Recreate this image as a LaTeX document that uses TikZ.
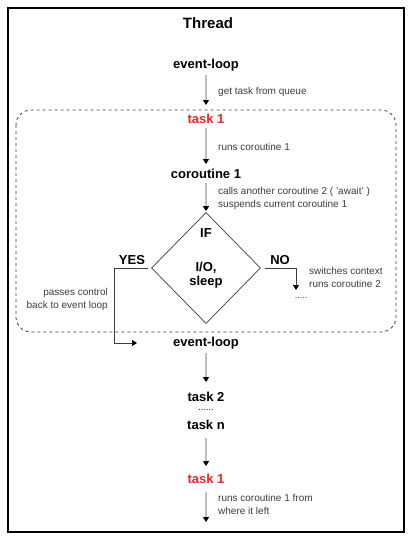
\documentclass[tikz,border=0pt]{standalone}
\usepackage{fontspec}
\setmainfont{Liberation Sans}
\usetikzlibrary{arrows.meta,shapes.geometric}
\definecolor{redtask}{RGB}{232,38,38}
\definecolor{txtgrey}{RGB}{60,60,60}
\definecolor{linegrey}{RGB}{190,190,190}
\tikzset{
  bold/.style={font=\fontsize{13}{15}\selectfont\bfseries, inner sep=0pt},
  redbold/.style={bold, text=redtask},
  small/.style={font=\fontsize{10}{13}\selectfont, text=txtgrey, inner sep=0pt, align=left},
  flow/.style={draw=linegrey, line width=1.8pt, -{Triangle[color=black,width=6pt,length=5pt]}},
  branch/.style={draw=txtgrey, line width=0.7pt, -{Triangle[color=black,width=6pt,length=5pt]}},
}
\begin{document}
\begin{tikzpicture}[x=1pt,y=-1pt]
\useasboundingbox (0,0) rectangle (411,539);
\draw[line width=1.5pt] (8,8) rectangle (404,532);
\draw[dashed, draw=txtgrey, line width=0.8pt, rounded corners=15pt] (16,110) rectangle (396,332);

\node[font=\fontsize{15}{17}\selectfont\bfseries, inner sep=0pt] (title) at (208,23) {Thread};

\node[bold] (el1) at (206,65) {event-loop};
\node[redbold] (t1) at (206,119) {task 1};
\node[bold] (c1) at (206,174) {coroutine 1};
\node[draw=txtgrey, line width=0.7pt, shape=diamond, minimum width=109pt, minimum height=111pt, inner sep=0pt] (d) at (206,268) {};
\node[bold] (if) at (206,233) {IF};
\node[bold, align=center, font=\fontsize{13}{14}\selectfont\bfseries] (io) at (206,275) {I/O,\\sleep};
\node[bold] (yes) at (132,260) {YES};
\node[bold] (no) at (280,260) {NO};
\node[bold] (el2) at (206,343) {event-loop};
\node[bold] (t2) at (206,397) {task 2};
\node[font=\fontsize{9}{10}\selectfont, inner sep=0pt] (dots) at (206,410) {......};
\node[bold] (tn) at (206,425) {task n};
\node[redbold] (t1b) at (206,479) {task 1};
\coordinate (endp) at (206,522);

\node[small, anchor=west] (l1) at (218,92) {get task from queue};
\node[small, anchor=west] (l2) at (218,147) {runs coroutine 1};
\node[small, anchor=west] (l3) at (218,198.5) {calls another coroutine 2 ( 'await' )\\suspends current coroutine 1};
\node[small, anchor=west] (l4) at (309,277.5) {switches context\\runs coroutine 2};
\node[small, anchor=east, align=right] (l5) at (108,299) {passes control\\back to event loop};
\node[small, anchor=west] (l6) at (218,504.5) {runs coroutine 1 from\\where it left};
\node[font=\fontsize{9}{10}\selectfont, text=txtgrey, inner sep=0pt] (ndots) at (301,298) {.....};

\coordinate (yesc) at (114,268);
\coordinate (yesend) at (137,343);
\coordinate (noc) at (296,268);
\coordinate (noend) at (296,290);

\draw[flow, shorten <=4pt, shorten >=9pt] (el1) -- (t1);
\draw[flow, shorten <=4pt, shorten >=5pt] (t1) -- (c1);
\draw[flow, shorten <=4pt, shorten >=1pt] (c1) -- (d.north);
\draw[branch, -] ([xshift=-3pt]d.west) -- (yesc);
\draw[branch] (yesc) |- (yesend);
\draw[branch, -] ([xshift=4pt]d.east) -- (noc);
\draw[branch] (noc) -- (noend);
\draw[flow, shorten <=4pt, shorten >=10pt] (el2) -- (t2);
\draw[flow, shorten <=8pt, shorten >=8pt] (tn) -- (t1b);
\draw[flow, shorten <=8pt] (t1b) -- (endp);
\end{tikzpicture}
\end{document}
